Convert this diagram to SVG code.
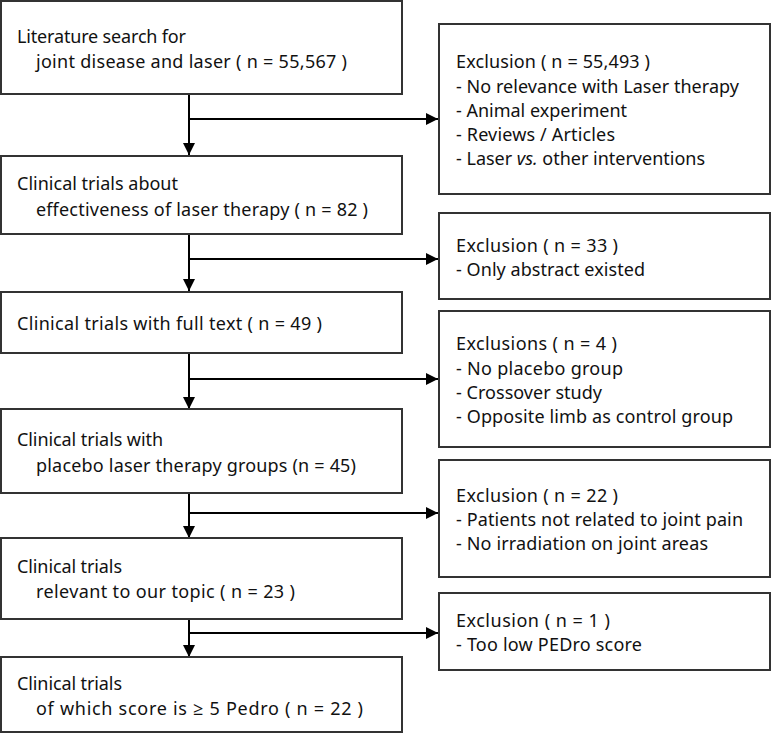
<svg xmlns="http://www.w3.org/2000/svg" width="771" height="733" viewBox="0 0 771 733">
<defs>
<style>
.box{fill:#fff;stroke:#333;stroke-width:2}
text{font-family:"Noto Sans","Open Sans",sans-serif;font-size:18px;fill:#111}
.c{stroke:#000;stroke-width:2;fill:none}
</style>
<marker id="ah" viewBox="0 0 12 12" refX="12" refY="6" markerWidth="12" markerHeight="12" markerUnits="userSpaceOnUse" orient="auto"><path d="M0,0L12,6L0,12Z" fill="#000"/></marker>
</defs>
<rect width="771" height="733" fill="#fff"/>
<g id="connectors">
<path class="c" d="M189,94V155" marker-end="url(#ah)"/>
<path class="c" d="M189,119H438" marker-end="url(#ah)"/>
<path class="c" d="M189,234V291" marker-end="url(#ah)"/>
<path class="c" d="M189,259H438" marker-end="url(#ah)"/>
<path class="c" d="M189,353V409" marker-end="url(#ah)"/>
<path class="c" d="M189,379H438" marker-end="url(#ah)"/>
<path class="c" d="M189,493V538" marker-end="url(#ah)"/>
<path class="c" d="M189,513H438" marker-end="url(#ah)"/>
<path class="c" d="M189,619V657" marker-end="url(#ah)"/>
<path class="c" d="M189,633H438" marker-end="url(#ah)"/>
</g>
<g id="n1"><rect class="box" x="1" y="1" width="401" height="93"/>
<text x="17" y="43" textLength="169" lengthAdjust="spacing">Literature search for</text><text x="36" y="68" textLength="311" lengthAdjust="spacing">joint disease and laser ( n = 55,567 )</text></g>
<g id="n2"><rect class="box" x="1" y="156" width="401" height="78"/>
<text x="17" y="190" textLength="161" lengthAdjust="spacing">Clinical trials about</text><text x="36" y="216" textLength="332" lengthAdjust="spacing">effectiveness of laser therapy ( n = 82 )</text></g>
<g id="n3"><rect class="box" x="1" y="292" width="401" height="61"/>
<text x="17" y="330" textLength="305" lengthAdjust="spacing">Clinical trials with full text ( n = 49 )</text></g>
<g id="n4"><rect class="box" x="1" y="409" width="401" height="84"/>
<text x="17" y="446" textLength="146" lengthAdjust="spacing">Clinical trials with</text><text x="36" y="472" textLength="320" lengthAdjust="spacing">placebo laser therapy groups (n = 45)</text></g>
<g id="n5"><rect class="box" x="1" y="538" width="401" height="81"/>
<text x="17" y="573" textLength="105" lengthAdjust="spacing">Clinical trials</text><text x="36" y="598" textLength="259" lengthAdjust="spacing">relevant to our topic ( n = 23 )</text></g>
<g id="n6"><rect class="box" x="1" y="657" width="401" height="75"/>
<text x="17" y="690" textLength="105" lengthAdjust="spacing">Clinical trials</text><text x="36" y="715" textLength="327" lengthAdjust="spacing">of which score is ≥ 5 Pedro ( n = 22 )</text></g>
<g id="r1"><rect class="box" x="439" y="24" width="331" height="170"/>
<text x="456" y="68" textLength="194" lengthAdjust="spacing">Exclusion ( n = 55,493 )</text><text x="456" y="93" textLength="283" lengthAdjust="spacing">- No relevance with Laser therapy</text><text x="456" y="117" textLength="171" lengthAdjust="spacing">- Animal experiment</text><text x="456" y="141" textLength="159" lengthAdjust="spacing">- Reviews / Articles</text><text x="456" y="165" textLength="249" lengthAdjust="spacing">- Laser <tspan font-style="italic">vs.</tspan> other interventions</text></g>
<g id="r2"><rect class="box" x="439" y="213" width="331" height="86"/>
<text x="456" y="252" textLength="162" lengthAdjust="spacing">Exclusion ( n = 33 )</text><text x="456" y="276" textLength="189" lengthAdjust="spacing">- Only abstract existed</text></g>
<g id="r3"><rect class="box" x="439" y="311" width="331" height="136"/>
<text x="456" y="350" textLength="161" lengthAdjust="spacing">Exclusions ( n = 4 )</text><text x="456" y="375" textLength="167" lengthAdjust="spacing">- No placebo group</text><text x="456" y="399" textLength="146" lengthAdjust="spacing">- Crossover study</text><text x="456" y="423" textLength="277" lengthAdjust="spacing">- Opposite limb as control group</text></g>
<g id="r4"><rect class="box" x="439" y="460" width="331" height="117"/>
<text x="456" y="502" textLength="162" lengthAdjust="spacing">Exclusion ( n = 22 )</text><text x="456" y="526" textLength="287" lengthAdjust="spacing">- Patients not related to joint pain</text><text x="456" y="550" textLength="252" lengthAdjust="spacing">- No irradiation on joint areas</text></g>
<g id="r5"><rect class="box" x="439" y="593" width="331" height="77"/>
<text x="456" y="627" textLength="154" lengthAdjust="spacing">Exclusion ( n = 1 )</text><text x="456" y="651" textLength="186" lengthAdjust="spacing">- Too low PEDro score</text></g>
</svg>
